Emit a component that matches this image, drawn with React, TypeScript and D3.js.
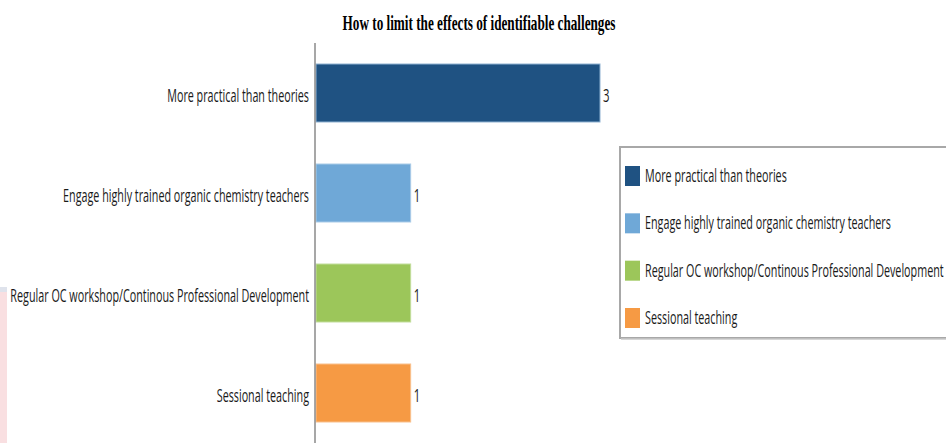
import React from "react";
import * as d3 from "d3";

const categories = [
  "More practical than theories",
  "Engage highly trained organic chemistry teachers",
  "Regular OC workshop/Continous Professional Development",
  "Sessional teaching",
];
const values = [3, 1, 1, 1];
const colors = ["#1f5282", "#6fa8d7", "#9cc65a", "#f69a44"];
const borders = ["#8fb2d2", "#a9cbe8", "#c2dd9b", "#f9c08c"];
const title = "How to limit the effects of identifiable challenges";

const W = 946;
const H = 443;
const LABEL_FONT = "'Open Sans', sans-serif";
const LABEL_SIZE = 18;
const LABEL_SX = 0.598;
const TITLE_SX = 0.6;

function CText({ x, y, sx, anchor, size, family, weight, fill, children }: any) {
  return (
    <text
      transform={`translate(${x},${y}) scale(${sx},1)`}
      textAnchor={anchor}
      fontSize={size}
      fontFamily={family}
      fontWeight={weight || "normal"}
      fill={fill || "#1a1a1a"}
    >
      {children}
    </text>
  );
}

export default function App() {
  const x = d3.scaleLinear().domain([0, 3]).range([316, 600]);
  const y = d3
    .scaleBand<string>()
    .domain(categories)
    .range([43, 443])
    .paddingInner(0.42)
    .paddingOuter(0.21);
  const bw = y.bandwidth();

  const legendY = d3.scalePoint<string>().domain(categories).range([176, 318]);

  return (
    <svg
      width={W}
      height={H}
      style={{ position: "absolute", left: 0, top: 0, background: "#fff" }}
    >
      <rect x={0} y={0} width={W} height={H} fill="#fff" />
      {/* left edge artifact strip */}
      <rect x={0} y={287} width={7} height={156} fill="#f9dfe1" />
      <rect x={0} y={287} width={7} height={5} fill="#dfe3ec" />

      <CText
        x={479}
        y={30}
        sx={TITLE_SX}
        anchor="middle"
        size={22}
        family="'Liberation Serif', serif"
        weight="bold"
        fill="#000"
      >
        {title}
      </CText>

      {categories.map((c, i) => {
        const yy = y(c)!;
        return (
          <g key={c}>
            <rect
              x={x(0)}
              y={yy}
              width={x(values[i]) - x(0)}
              height={bw}
              fill={colors[i]}
              stroke={borders[i]}
              strokeWidth={1}
            />
            <CText
              x={309}
              y={yy + bw / 2 + 9}
              sx={LABEL_SX}
              anchor="end"
              size={LABEL_SIZE}
              family={LABEL_FONT}
            >
              {c}
            </CText>
            <CText
              x={x(values[i]) + 3}
              y={yy + bw / 2 + 9}
              sx={LABEL_SX}
              anchor="start"
              size={LABEL_SIZE + 1}
              family={LABEL_FONT}
            >
              {String(values[i])}
            </CText>
          </g>
        );
      })}

      <line x1={315} x2={315} y1={43} y2={443} stroke="#8a8a8a" strokeWidth={1.5} />

      {/* legend */}
      <rect x={620} y={147} width={340} height={191} fill="#fff" stroke="#a8a8a8" strokeWidth={2} />
      <line x1={621} x2={960} y1={339} y2={339} stroke="#c8c8c8" strokeWidth={1.5} />
      {categories.map((c, i) => {
        const cy = legendY(c)!;
        return (
          <g key={"lg" + c}>
            <rect x={625} y={cy - 10} width={15} height={20} fill={colors[i]} />
            <CText
              x={645}
              y={cy + 6}
              sx={LABEL_SX}
              anchor="start"
              size={LABEL_SIZE}
              family={LABEL_FONT}
            >
              {c}
            </CText>
          </g>
        );
      })}
    </svg>
  );
}
